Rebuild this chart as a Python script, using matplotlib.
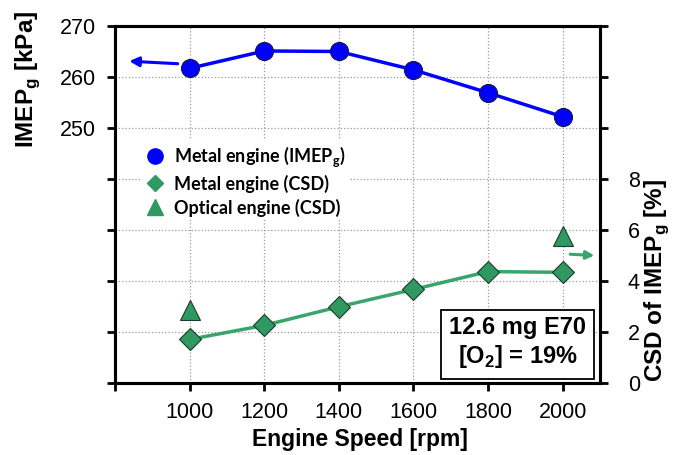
import numpy as np
import matplotlib
matplotlib.use("Agg")
import matplotlib.pyplot as plt
from matplotlib.lines import Line2D
from matplotlib.ticker import FuncFormatter

plt.rcParams['font.family'] = ['Liberation Sans', 'DejaVu Sans']
plt.rcParams['mathtext.fontset'] = 'custom'
plt.rcParams['mathtext.rm'] = 'Liberation Sans'
plt.rcParams['mathtext.bf'] = 'Liberation Sans:bold'

# data
speed = [1000, 1200, 1400, 1600, 1800, 2000]
imep_metal = [261.7, 265.1, 265.0, 261.4, 256.9, 252.2]
csd_metal = [1.71, 2.26, 2.99, 3.67, 4.37, 4.34]
speed_optical = [1000, 2000]
csd_optical = [2.85, 5.75]

x_ticks = [800, 1000, 1200, 1400, 1600, 1800, 2000]
left_ticks = [200, 210, 220, 230, 240, 250, 260, 270]
right_ticks = [0, 2, 4, 6, 8, 10, 12, 14]

blue = '#0000ff'
green = '#2e9a62'
line_green = '#3aa56a'

fig = plt.figure(figsize=(6.9, 4.55), dpi=100)
ax1 = fig.add_axes([0.1667, 0.1582, 0.7029, 0.7847])
ax2 = ax1.twinx()

# IMEP on the left axis
ax1.plot(speed, imep_metal, color=blue, lw=2.5, marker='o', ms=13,
         mfc=blue, mec='#1a1a40', mew=0.8, zorder=5)
ax1.set_xlim(800, 2100)
ax1.set_ylim(200, 270)
ax1.set_xticks(x_ticks)
ax1.set_yticks(left_ticks)
ax1.xaxis.set_major_formatter(FuncFormatter(lambda v, p: '' if v < 1000 else '%d' % v))
ax1.yaxis.set_major_formatter(FuncFormatter(lambda v, p: '%d' % v if v >= 250 else ''))
ax1.grid(True, color='#9a9a9a', ls=':', lw=0.9)

# CSD on the right axis
ax2.plot(speed, csd_metal, color=line_green, lw=2.5, marker='D', ms=11,
         mfc=green, mec='#1e3a2a', mew=0.8, zorder=5)
ax2.plot(speed_optical, csd_optical, ls='none', marker='^', ms=14,
         mfc=green, mec='#1e3a2a', mew=0.8, zorder=5)
ax2.set_ylim(0, 14)
ax2.set_yticks(right_ticks)
ax2.yaxis.set_major_formatter(FuncFormatter(lambda v, p: '%d' % v if v <= 8 else ''))

for ax in (ax1, ax2):
    for s in ax.spines.values():
        s.set_linewidth(2.2)
    ax.tick_params(direction='out', length=6, width=2, labelsize=15.5)
ax1.tick_params(axis='x', pad=8)
ax1.tick_params(axis='y', pad=8)
ax2.tick_params(axis='y', pad=14)

# arrows to point at the axes
ax1.annotate('', xy=(838, 263.1), xytext=(968, 262.6),
             arrowprops=dict(arrowstyle='-|>', color=blue, lw=2.2,
                             mutation_scale=14, shrinkA=0, shrinkB=0))
ax2.annotate('', xy=(2085, 5.0), xytext=(2020, 5.05),
             arrowprops=dict(arrowstyle='-|>', color=line_green, lw=2.2,
                             mutation_scale=12, shrinkA=0, shrinkB=0))

# legend with markers only
handles = [
    Line2D([], [], ls='none', marker='o', ms=11, color=blue),
    Line2D([], [], ls='none', marker='D', ms=8, color=green),
    Line2D([], [], ls='none', marker='^', ms=11, color=green),
]
labels = [r'Metal engine (IMEP$_\mathregular{g}$)', 'Metal engine (CSD)',
          'Optical engine (CSD)']
leg = ax2.legend(handles, labels, loc='upper left', bbox_to_anchor=(0.035, 0.705),
                 frameon=True, framealpha=1, edgecolor='none', facecolor='white',
                 fancybox=False, handletextpad=0.4, labelspacing=0.32,
                 borderpad=0.2, handlelength=1.2,
                 prop=dict(family='Lato', weight='bold', size=13))
leg.set_zorder(10)

ax2.text(1879, 1.55, '12.6 mg E70\n[O$_\\mathregular{2}$] = 19%', ha='center', va='center',
         fontsize=17, fontweight='bold', linespacing=1.2, zorder=6,
         bbox=dict(boxstyle='square,pad=0.35', fc='white', ec='black', lw=1.3))

fig.text(0.0406, 0.826, r'IMEP$_\mathregular{g}$ [kPa]', rotation=90,
         ha='center', va='center', fontsize=17.5, fontweight='bold')
fig.text(0.951, 0.383, r'CSD of IMEP$_\mathregular{g}$ [%]', rotation=90,
         ha='center', va='center', fontsize=17.5, fontweight='bold')
fig.text(0.522, 0.033, 'Engine Speed [rpm]', ha='center', va='center',
         fontsize=16.5, fontweight='bold')

fig.savefig('out.png', dpi=100)
